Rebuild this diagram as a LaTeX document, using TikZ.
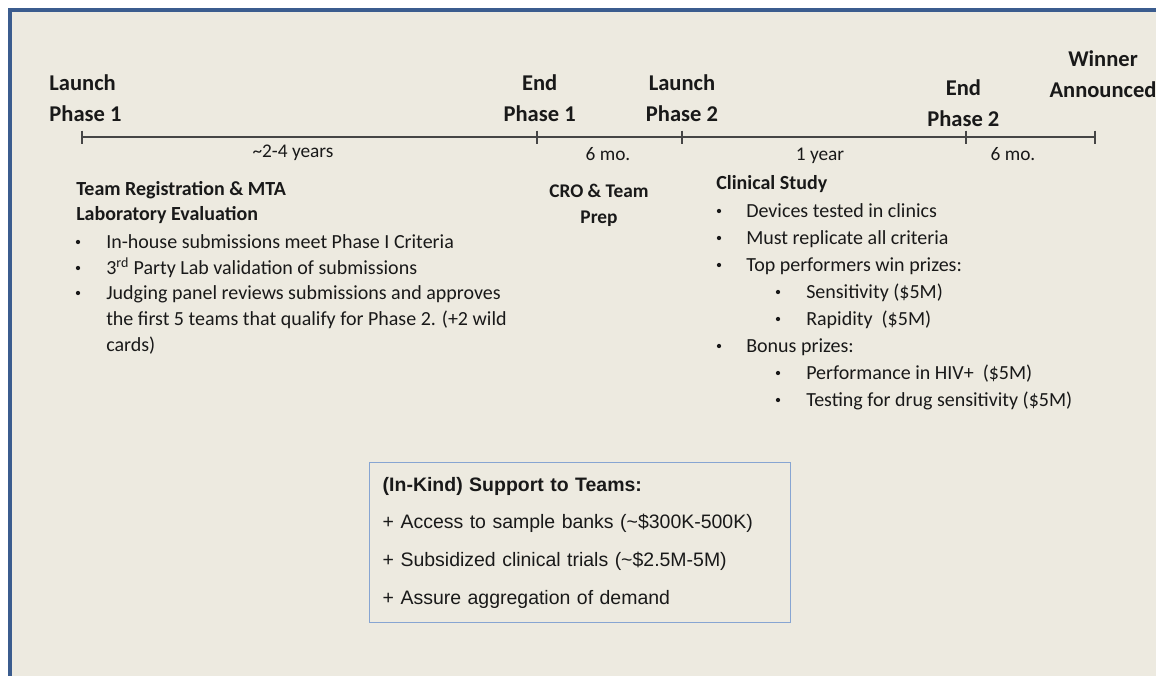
\documentclass[tikz,border=0pt]{standalone}
\usepackage{fontspec}
\setmainfont{Carlito}
\newfontfamily\boxfont{Liberation Sans}
\usetikzlibrary{positioning}

\definecolor{panelbg}{RGB}{237,234,224}
\definecolor{frameblue}{RGB}{59,92,142}
\definecolor{boxblue}{RGB}{135,165,210}
\definecolor{axisgray}{RGB}{70,70,70}
\definecolor{inkblack}{RGB}{25,25,25}

\begin{document}
\begin{tikzpicture}[
    x=0.75pt, y=-0.75pt,
    every node/.style={inner sep=0pt, text=inkblack},
    milestone/.style={font=\fontsize{16.9}{23.25}\selectfont\bfseries, align=center},
    dur/.style={font=\fontsize{14.5}{18}\selectfont, anchor=base},
    head/.style={font=\fontsize{15}{19}\selectfont\bfseries, anchor=base west},
    body/.style={font=\fontsize{15}{19}\selectfont, anchor=base west},
    dot/.style={circle, fill=inkblack, minimum size=3.2pt},
    axis/.style={draw=axisgray, line width=1.5pt},
    support/.style={draw=boxblue, line width=1.1pt, fill=panelbg, align=left,
        font=\boxfont\fontsize{14.6}{28.3}\selectfont, text width=296pt,
        inner xsep=9.75pt, minimum height=120pt, anchor=north west}
]
\useasboundingbox (0,0) rectangle (1156,675);
% panel
\fill[panelbg] (8,8) rectangle (1170,690);
\draw[frameblue, line width=3pt] (10,690) -- (10,10) -- (1170,10);

% timeline
\coordinate (t1) at (82,137);
\coordinate (t2) at (537,137);
\coordinate (t3) at (682,137);
\coordinate (t4) at (966,137);
\coordinate (t5) at (1095,137);
\draw[axis] (t1) -- (t2) -- (t3) -- (t4) -- (t5);
\foreach \t in {t1,t2,t3,t4,t5}
    \draw[axis] (\t) ++(0,-6.5) -- ++(0,13);

\node[milestone, align=left, above=11.25pt of t1, xshift=2.6pt] (lp1) {Launch\\Phase 1};
\node[milestone, above=11.25pt of t2, xshift=2pt] (ep1) {End\\Phase 1};
\node[milestone, above=11.25pt of t3] (lp2) {Launch\\Phase 2};
\node[milestone, above=7.5pt of t4, xshift=-2pt] (ep2) {End\\Phase 2};
\node[milestone, above=29pt of t5, xshift=6pt] (win) {Winner\\Announced};

\node[dur] (d1) at (293,157) {\textasciitilde2-4 years};
\node[dur] (d2) at (608,160) {6 mo.};
\node[dur] (d3) at (820,160) {1 year};
\node[dur] (d4) at (1013,160) {6 mo.};

% phase 1
\node[head] (reghead) at (76,195) {Team Registration \& MTA};
\node[head] (labhead) at (76,220) {Laboratory Evaluation};
\node[dot] (rb1) at (78,242) {};
\node[body] (r1) at (106,248) {In-house submissions meet Phase I Criteria};
\node[dot] (rb2) at (78,268) {};
\node[body] (r2) at (106,274) {3\textsuperscript{rd} Party Lab validation of submissions};
\node[dot] (rb3) at (78,293) {};
\node[body] (r3) at (106,299) {Judging panel reviews submissions and approves};
\node[body] (r4) at (106,325) {the first 5 teams that qualify for Phase 2. (+2 wild};
\node[body] (r5) at (106,351) {cards)};

% prep
\node[milestone, font=\fontsize{14.5}{19.5}\selectfont\bfseries, anchor=north] (crohead) at (599,184) {CRO \& Team\\Prep};

% phase 2
\node[head] (clinhead) at (716,189) {Clinical Study};
\node[dot] (cb1) at (719,211) {};
\node[body] (c1) at (746,217) {Devices tested in clinics};
\node[dot] (cb2) at (719,238) {};
\node[body] (c2) at (746,244) {Must replicate all criteria};
\node[dot] (cb3) at (719,265) {};
\node[body] (c3) at (746,271) {Top performers win prizes:};
\node[dot] (cb4) at (778,292) {};
\node[body] (c4) at (806,298) {Sensitivity (\$5M)};
\node[dot] (cb5) at (778,319) {};
\node[body] (c5) at (806,325) {Rapidity\ \ (\$5M)};
\node[dot] (cb6) at (719,346) {};
\node[body] (c6) at (746,352) {Bonus prizes:};
\node[dot] (cb7) at (778,373) {};
\node[body] (c7) at (806,379) {Performance in HIV+\ \ (\$5M)};
\node[dot] (cb8) at (778,400) {};
\node[body] (c8) at (806,406) {Testing for drug sensitivity (\$5M)};

% support box
\node[support] (kind) at (369,462) {\textbf{(In-Kind) Support to Teams:}\\
    + Access to sample banks (\textasciitilde\$300K-500K)\\
    + Subsidized clinical trials (\textasciitilde\$2.5M-5M)\\
    + Assure aggregation of demand};
\end{tikzpicture}
\end{document}
